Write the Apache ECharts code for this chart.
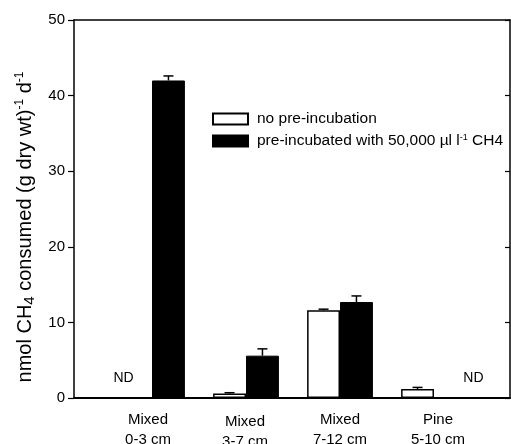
<!DOCTYPE html>
<html>
<head>
<meta charset="utf-8">
<script src="https://cdn.jsdelivr.net/npm/echarts@6/dist/echarts.min.js"></script>
<style>
html, body { margin: 0; padding: 0; background: #fff; }
#main { width: 511px; height: 444px; }
</style>
</head>
<body>
<div id="main"></div>
<script>
var categories = ['Mixed\n0-3 cm', 'Mixed\n3-7 cm', 'Mixed\n7-12 cm', 'Pine\n5-10 cm'];
var seriesNames = ['no pre-incubation', 'pre-incubated with 50,000 \u00b5l l{sup|-1} CH4'];
// null = not detected (ND)
var noPre = [null, 0.6, 11.6, 1.2];
var noPreErr = [null, 0.1, 0.15, 0.2];
var pre = [42.0, 5.6, 12.7, null];
var preErr = [0.6, 0.9, 0.8, null];
var yTicks = [0, 10, 20, 30, 40, 50];

var font = 'Liberation Sans, Arial, sans-serif';

function barData(vals, ndOffset) {
    return vals.map(function (v, i) {
        if (v === null) {
            return {
                value: 0,
                itemStyle: { borderWidth: 0, color: 'transparent' },
                label: { show: true, formatter: 'ND', position: 'top', distance: 13, offset: [ndOffset[i], 0],
                    color: '#000', fontSize: 14, fontFamily: font }
            };
        }
        return v;
    });
}

function errData(vals, errs, side) {
    var out = [];
    for (var i = 0; i < vals.length; i++) {
        if (vals[i] !== null && errs[i] !== null) out.push([i, vals[i], errs[i], side]);
    }
    return out;
}

function renderErr(params, api) {
    var idx = api.value(0);
    var top = api.coord([idx, api.value(1) + api.value(2)]);
    var base = api.coord([idx, api.value(1)]);
    var w = api.size([1, 0])[0];
    var x = top[0] + api.value(3) * w * 0.175;
    var st = { stroke: '#000', lineWidth: 1.5 };
    return {
        type: 'group',
        children: [
            { type: 'line', shape: { x1: x, y1: base[1], x2: x, y2: top[1] }, style: st },
            { type: 'line', shape: { x1: x - 5, y1: top[1], x2: x + 5, y2: top[1] }, style: st }
        ]
    };
}

// small per-label nudges (top, right, bottom, left padding)
var labelPad = [[0, 8, 0, 0], [4, 2, 0, 0], [0, 0, 0, 0], [0, 0, 0, 8]];
var labelRich = {};
labelPad.forEach(function (p, i) {
    labelRich['c' + i] = { fontSize: 15, fontFamily: font, color: '#000', lineHeight: 20, padding: p };
});

var myChart = echarts.init(document.getElementById('main'));

var option = {
    animation: false,
    backgroundColor: '#fff',
    textStyle: { fontFamily: font },
    grid: [
        { left: 74, right: 1, top: 20, bottom: 46, outerBoundsMode: 'none', containLabel: false },
        { left: 105, width: 376, top: 20, bottom: 46, outerBoundsMode: 'none', containLabel: false }
    ],
    legend: {
        orient: 'vertical',
        left: 207,
        top: 106,
        itemWidth: 35,
        itemHeight: 11,
        itemGap: 6,
        icon: 'rect',
        data: seriesNames,
        textStyle: {
            fontSize: 15.5,
            fontFamily: font,
            color: '#000',
            padding: [0, 0, 0, 4],
            rich: {
                sup: { fontSize: 9, verticalAlign: 'top', padding: [0, 0, 7, 0], fontFamily: font }
            }
        }
    },
    xAxis: [
        { gridIndex: 0, type: 'value', min: 0, max: 1, position: 'bottom',
          axisLine: { show: true, onZero: false, lineStyle: { color: '#000', width: 2 } },
          axisTick: { show: false }, axisLabel: { show: false }, splitLine: { show: false } },
        { gridIndex: 0, type: 'value', min: 0, max: 1, position: 'top',
          axisLine: { show: true, onZero: false, lineStyle: { color: '#000', width: 1.5 } },
          axisTick: { show: false }, axisLabel: { show: false }, splitLine: { show: false } },
        { gridIndex: 1, type: 'category', data: categories,
          axisLine: { show: false }, axisTick: { show: false },
          axisLabel: {
              margin: 12,
              formatter: function (value, index) {
                  return value.split('\n').map(function (s) { return '{c' + index + '|' + s + '}'; }).join('\n');
              },
              rich: labelRich
          } }
    ],
    yAxis: [
        { gridIndex: 0, type: 'value', min: 0, max: 50, interval: 10, position: 'left',
          axisLine: { show: true, onZero: false, lineStyle: { color: '#000', width: 1.5 } },
          axisTick: { show: true, inside: false, length: 6, lineStyle: { color: '#000', width: 1.2 } },
          axisLabel: { color: '#000', fontSize: 15, fontFamily: font, margin: 9,
              formatter: function (v) { return yTicks.indexOf(v) >= 0 ? String(v) : ''; } },
          splitLine: { show: false },
          name: '{n|nmol CH}{sub|4}{n| consumed (g dry wt)}{sup|-1}{n| d}{sup|-1}{gap| }',
          nameLocation: 'middle',
          nameGap: 29,
          nameTextStyle: {
              rich: {
                  n: { fontSize: 20, fontFamily: font, color: '#000', lineHeight: 24, verticalAlign: 'middle' },
                  sub: { fontSize: 15, fontFamily: font, color: '#000', lineHeight: 24, verticalAlign: 'bottom', padding: [7, 0, 0, 0] },
                  sup: { fontSize: 12, fontFamily: font, color: '#000', lineHeight: 24, verticalAlign: 'top', padding: [0, 0, 10, 0] },
                  gap: { width: 36, fontSize: 10, lineHeight: 24 }
              }
          } },
        { gridIndex: 0, type: 'value', min: 0, max: 50, interval: 10, position: 'right',
          axisLine: { show: true, onZero: false, lineStyle: { color: '#000', width: 1.5 } },
          axisTick: { show: true, inside: true, length: 5, lineStyle: { color: '#000', width: 1.2 } },
          axisLabel: { show: false }, splitLine: { show: false } },
        { gridIndex: 1, type: 'value', min: 0, max: 50, show: false }
    ],
    series: [
        { name: seriesNames[0], type: 'bar', xAxisIndex: 2, yAxisIndex: 2,
          barGap: '0%', barCategoryGap: '30%',
          itemStyle: { color: '#fff', borderColor: '#000', borderWidth: 1.5 },
          data: barData(noPre, [-12, 0, 0, 0]) },
        { name: seriesNames[1], type: 'bar', xAxisIndex: 2, yAxisIndex: 2,
          barGap: '0%', barCategoryGap: '30%',
          itemStyle: { color: '#000', borderColor: '#000', borderWidth: 1 },
          data: barData(pre, [0, 0, 0, 23]) },
        { type: 'custom', xAxisIndex: 2, yAxisIndex: 2, renderItem: renderErr,
          data: errData(noPre, noPreErr, -1), z: 5 },
        { type: 'custom', xAxisIndex: 2, yAxisIndex: 2, renderItem: renderErr,
          data: errData(pre, preErr, 1), z: 5 }
    ]
};

myChart.setOption(option);
</script>
</body>
</html>
